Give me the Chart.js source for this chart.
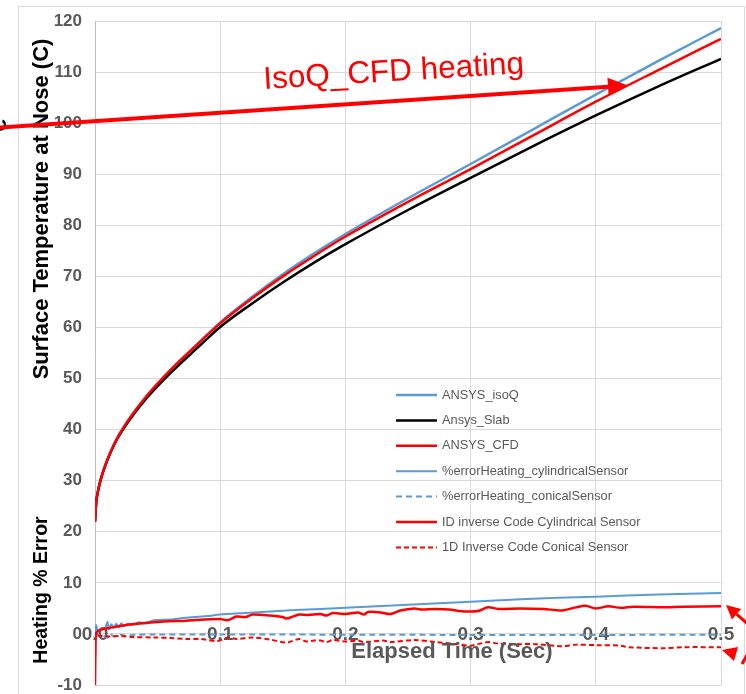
<!DOCTYPE html>
<html><head><meta charset="utf-8">
<script src="https://cdn.jsdelivr.net/npm/chart.js@4.4.1/dist/chart.umd.min.js"></script>
<style>html,body{margin:0;padding:0;background:#fff;}canvas{display:block;}</style>
</head><body>
<canvas id="c" width="746" height="694"></canvas>
<script>
// ---- data ----
const timeTemp = [0, 0.001, 0.0025, 0.005, 0.01, 0.015, 0.02, 0.03, 0.04, 0.05, 0.06, 0.08, 0.1, 0.125, 0.15, 0.175, 0.2, 0.25, 0.3, 0.35, 0.4, 0.45, 0.5];
const isoQ = [22, 25.8, 28.1, 30.6, 34.2, 37, 39.3, 43, 46.2, 49, 51.6, 56.3, 61.0, 65.9, 70.4, 74.5, 78.3, 85.3, 92.0, 98.8, 105.6, 112.2, 118.6];
const slab = [22, 25.8, 28.1, 30.6, 34.1, 36.9, 39.1, 42.7, 45.8, 48.5, 51.0, 55.6, 60.1, 64.6, 68.8, 72.7, 76.3, 83.0, 89.3, 95.5, 101.5, 107.2, 112.6];
const cfd = [22, 25.8, 28.1, 30.6, 34.2, 37, 39.3, 43, 46.2, 49, 51.6, 56.3, 60.8, 65.6, 70.0, 74.0, 77.8, 84.6, 91.0, 97.6, 104.2, 110.4, 116.5];

const errCylT = [0, 0.001, 0.002, 0.004, 0.006, 0.008, 0.010, 0.011, 0.013, 0.015, 0.017, 0.019, 0.021, 0.023, 0.026, 0.03, 0.035, 0.04, 0.047, 0.06, 0.07, 0.08, 0.09, 0.1, 0.12, 0.14, 0.16, 0.2, 0.25, 0.3, 0.34, 0.4, 0.45, 0.5];
const errCylV = [0, 1.7, 0.6, 0.9, 1.0, 1.1, 2.4, 0.9, 1.9, 1.2, 2.0, 1.3, 2.1, 1.5, 2.0, 1.8, 2.3, 2.1, 2.7, 2.8, 3.1, 3.3, 3.5, 3.8, 4.1, 4.4, 4.7, 5.1, 5.7, 6.3, 6.8, 7.3, 7.7, 8.0];

const errConT = [0, 0.003, 0.006, 0.01, 0.012, 0.015, 0.02, 0.025, 0.03, 0.05, 0.1, 0.2, 0.3, 0.4, 0.5];
const errConV = [0.4, -0.2, -0.3, -0.7, 0.1, -0.5, -0.1, -0.4, -0.2, -0.1, -0.1, -0.15, -0.2, -0.2, -0.15];

const invCylT = [0, 0.0005, 0.001, 0.002, 0.004, 0.01, 0.026, 0.047, 0.073, 0.1, 0.106, 0.113, 0.12, 0.126, 0.14, 0.15, 0.153, 0.163, 0.17, 0.18, 0.185, 0.19, 0.2, 0.21, 0.215, 0.218, 0.228, 0.236, 0.244, 0.255, 0.26, 0.272, 0.283, 0.291, 0.3, 0.306, 0.314, 0.322, 0.339, 0.358, 0.373, 0.384, 0.392, 0.4, 0.41, 0.42, 0.43, 0.455, 0.47, 0.5];
const invCylV = [-10, -1, 0.2, 0.5, 0.8, 1.1, 1.8, 2.3, 2.6, 2.9, 2.7, 3.4, 3.3, 3.8, 3.6, 3.3, 3.0, 3.8, 3.7, 3.9, 3.6, 4.1, 3.9, 4.2, 3.8, 4.3, 4.2, 3.9, 4.6, 5.0, 4.8, 4.9, 4.8, 4.5, 4.4, 4.5, 5.2, 4.9, 5.0, 4.9, 4.6, 5.2, 5.5, 5.0, 5.4, 5.1, 5.3, 5.2, 5.3, 5.4];

const invConT = [0.002, 0.01, 0.02, 0.03, 0.047, 0.06, 0.073, 0.085, 0.098, 0.106, 0.113, 0.126, 0.14, 0.153, 0.163, 0.169, 0.175, 0.18, 0.185, 0.19, 0.2, 0.21, 0.215, 0.23, 0.236, 0.255, 0.272, 0.289, 0.3, 0.306, 0.314, 0.322, 0.339, 0.352, 0.373, 0.384, 0.4, 0.42, 0.426, 0.455, 0.47, 0.5];
const invConV = [-0.3, -0.5, -0.4, -0.6, -0.7, -0.8, -1.0, -1.0, -1.4, -0.7, -1.0, -0.7, -1.1, -1.7, -1.0, -1.5, -1.3, -1.3, -1.6, -1.2, -1.5, -1.3, -1.6, -1.3, -1.6, -1.2, -1.6, -2.0, -2.3, -2.0, -1.6, -1.9, -2.0, -2.0, -2.4, -2.1, -2.2, -2.3, -2.6, -2.8, -2.6, -2.6];

const seriesLabels = ['ANSYS_isoQ', 'Ansys_Slab', 'ANSYS_CFD', '%errorHeating_cylindricalSensor', '%errorHeating_conicalSensor', 'ID inverse Code Cylindrical Sensor', '1D Inverse Code Conical Sensor'];
const xTicks = [0, 0.1, 0.2, 0.3, 0.4, 0.5];
const yMin = -10, yMax = 120;

// ---- helpers ----
const pts = (t, v) => t.map((x, i) => ({x, y: v[i]}));
const BLUE = '#5b9bd5', RED = '#ff0000', BLACK = '#000000';
const FAM = '"Liberation Sans", Arial, sans-serif';

const datasets = [
  {label: seriesLabels[0], data: pts(timeTemp, isoQ), borderColor: BLUE, borderWidth: 2.5, cubicInterpolationMode: 'monotone', order: 3},
  {label: seriesLabels[1], data: pts(timeTemp, slab), borderColor: BLACK, borderWidth: 2.5, cubicInterpolationMode: 'monotone', order: 2},
  {label: seriesLabels[2], data: pts(timeTemp, cfd), borderColor: RED, borderWidth: 2.5, cubicInterpolationMode: 'monotone', order: 1},
  {label: seriesLabels[3], data: pts(errCylT, errCylV), borderColor: BLUE, borderWidth: 2, tension: 0.2, order: 6},
  {label: seriesLabels[4], data: pts(errConT, errConV), borderColor: BLUE, borderWidth: 2, borderDash: [6, 4], tension: 0.2, order: 7},
  {label: seriesLabels[5], data: pts(invCylT, invCylV), borderColor: RED, borderWidth: 2.5, tension: 0.3, order: 4},
  {label: seriesLabels[6], data: pts(invConT, invConV), borderColor: RED, borderWidth: 2, borderDash: [5, 3], tension: 0.3, order: 5}
];
datasets.forEach(d => { d.pointRadius = 0; d.fill = false; d.backgroundColor = d.borderColor; });

function arrow(ctx, x1, y1, x2, y2, len, w, lw) {
  const a = Math.atan2(y2 - y1, x2 - x1);
  const bx = x2 - len * Math.cos(a), by = y2 - len * Math.sin(a);
  ctx.beginPath(); ctx.moveTo(x1, y1); ctx.lineTo(bx, by); ctx.lineWidth = lw; ctx.stroke();
  ctx.beginPath(); ctx.moveTo(x2, y2);
  ctx.lineTo(bx + w / 2 * Math.sin(a), by - w / 2 * Math.cos(a));
  ctx.lineTo(bx - w / 2 * Math.sin(a), by + w / 2 * Math.cos(a));
  ctx.closePath(); ctx.fill();
}

const overlay = {
  id: 'overlay',
  beforeDraw(chart) {
    const ctx = chart.ctx; ctx.save();
    ctx.fillStyle = '#fff'; ctx.fillRect(0, 0, chart.width, chart.height);
    ctx.strokeStyle = '#d9d9d9'; ctx.lineWidth = 1; ctx.strokeRect(18.5, 6.5, 726, 720);
    ctx.restore();
  },
  afterDraw(chart) {
    const ctx = chart.ctx; ctx.save();
    // y titles
    ctx.fillStyle = '#000';
    ctx.textAlign = 'center'; ctx.textBaseline = 'middle';
    [['Surface Temperature at Nose (C)', 209, 22], ['Heating % Error', 590, 19.5]].forEach(([t, y, s]) => {
      ctx.save(); ctx.translate(42, y); ctx.rotate(-Math.PI / 2); ctx.font = 'bold ' + s + 'px ' + FAM; ctx.fillText(t, 0, 0); ctx.restore();
    });
    // x title
    ctx.fillStyle = '#595959'; ctx.font = 'bold 22px ' + FAM;
    ctx.fillText('Elapsed Time (Sec)', 452, 652);
    // clipped glyph at left edge
    ctx.fillStyle = '#000';
    ctx.save(); ctx.translate(-1, 125); ctx.rotate(-Math.PI / 2); ctx.font = 'bold 24px ' + FAM; ctx.fillText('e', 0, 0); ctx.restore();
    // legend
    ctx.font = '12.8px ' + FAM; ctx.textAlign = 'left'; ctx.textBaseline = 'middle';
    chart.data.datasets.forEach((d, i) => {
      const y = 395 + i * 25.4;
      ctx.strokeStyle = d.borderColor; ctx.lineWidth = d.borderWidth; ctx.setLineDash(d.borderDash || []);
      ctx.beginPath(); ctx.moveTo(396, y); ctx.lineTo(437, y); ctx.stroke();
      ctx.setLineDash([]);
      ctx.fillStyle = '#595959'; ctx.fillText(d.label, 442, y);
    });
    // annotation
    ctx.strokeStyle = RED; ctx.fillStyle = RED;
    arrow(ctx, 0, 127.5, 628, 85.5, 20, 18, 4);
    ctx.save(); ctx.translate(264, 89); ctx.rotate(-3.5 * Math.PI / 180);
    ctx.font = '31.5px ' + FAM; ctx.textBaseline = 'alphabetic'; ctx.textAlign = 'left';
    ctx.fillText('IsoQ_CFD heating', 0, 0); ctx.restore();
    arrow(ctx, 750, 626, 726, 605, 14, 14, 3);
    ctx.beginPath(); ctx.moveTo(722, 650); ctx.lineTo(738, 647); ctx.lineTo(734, 661); ctx.closePath(); ctx.fill();
    ctx.lineWidth = 3; ctx.beginPath(); ctx.moveTo(742, 664); ctx.lineTo(747, 655); ctx.stroke();
    ctx.restore();
  }
};

new Chart(document.getElementById('c'), {
  type: 'line',
  data: {datasets},
  options: {
    responsive: false, animation: false, devicePixelRatio: 1,
    layout: {padding: {left: 0, right: 25, top: 21, bottom: 9}},
    plugins: {legend: {display: false}, tooltip: {enabled: false}},
    scales: {
      x: {
        type: 'linear', position: 'bottom', min: 0, max: 0.5,
        afterBuildTicks: s => { s.ticks = xTicks.map(v => ({value: v})); },
        ticks: {mirror: true, callback: v => Number(v).toFixed(1), color: '#595959', font: {size: 19, weight: 'bold', family: FAM}, padding: 39, maxRotation: 0, autoSkip: false},
        grid: {color: '#d9d9d9', drawTicks: false},
        border: {display: false},
        title: {display: false},
        afterFit: s => { s.height = 0; s.paddingLeft = 0; s.paddingRight = 0; }
      },
      y: {
        min: yMin, max: yMax,
        ticks: {stepSize: 10, color: '#595959', font: {size: 17, weight: 'bold', lineHeight: 1, family: FAM}, padding: 0},
        grid: {color: '#d9d9d9', drawTicks: true, tickLength: 13, tickColor: 'rgba(0,0,0,0)'},
        border: {color: '#bfbfbf'},
        afterFit: s => { s.width = 95; }
      }
    }
  },
  plugins: [overlay]
});
</script>
</body></html>
